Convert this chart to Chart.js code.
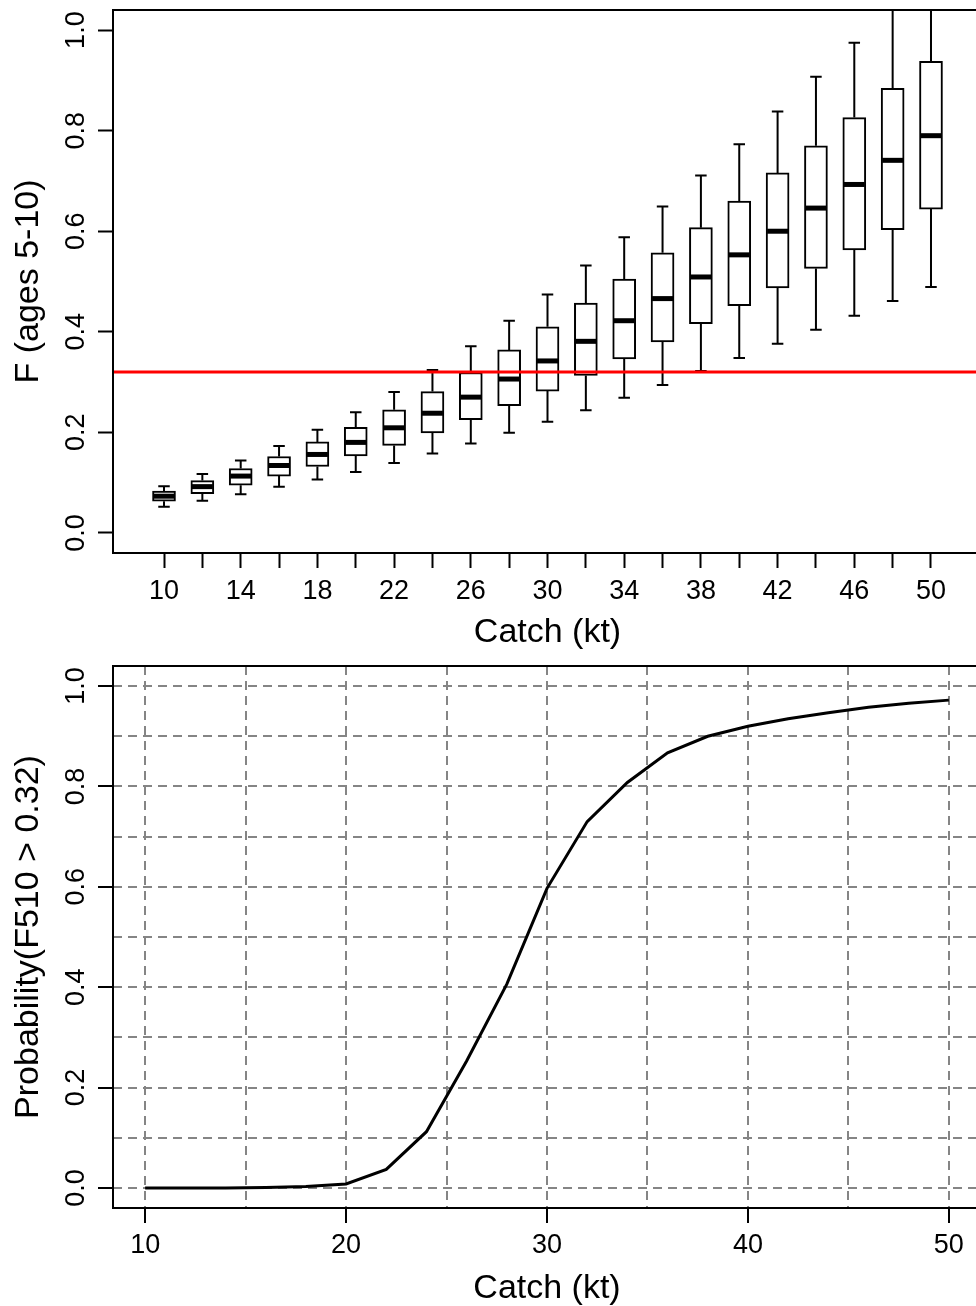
<!DOCTYPE html>
<html>
<head>
<meta charset="utf-8">
<script src="https://cdn.jsdelivr.net/npm/chart.js@4.4.1/dist/chart.umd.min.js"></script>
<style>
html, body { margin: 0; padding: 0; background: #fff; overflow: hidden; width: 976px; height: 1306px; }
#wrapTop { position: absolute; left: 0; top: 0; }
#wrapBottom { position: absolute; left: 0; top: 650px; }
</style>
</head>
<body>
<div id="wrapTop"><canvas id="boxChart" width="1000" height="650"></canvas></div>
<div id="wrapBottom"><canvas id="probChart" width="1000" height="656"></canvas></div>
<script>
// --- top panel: F (ages 5-10) by catch ---
const catchLevels = [10, 12, 14, 16, 18, 20, 22, 24, 26, 28, 30, 32, 34, 36, 38, 40, 42, 44, 46, 48, 50];
const whiskerLow  = [0.052, 0.064, 0.077, 0.092, 0.106, 0.121, 0.139, 0.158, 0.178, 0.199, 0.221, 0.244, 0.269, 0.294, 0.322, 0.348, 0.376, 0.404, 0.432, 0.461, 0.489];
const boxLow      = [0.063, 0.078, 0.095, 0.113, 0.132, 0.153, 0.174, 0.199, 0.225, 0.253, 0.282, 0.313, 0.346, 0.380, 0.416, 0.452, 0.487, 0.526, 0.563, 0.603, 0.644];
const medianF     = [0.073, 0.092, 0.113, 0.134, 0.156, 0.180, 0.209, 0.238, 0.270, 0.306, 0.342, 0.381, 0.422, 0.466, 0.509, 0.553, 0.600, 0.646, 0.693, 0.741, 0.790];
const boxHigh     = [0.083, 0.104, 0.128, 0.152, 0.181, 0.210, 0.245, 0.281, 0.319, 0.364, 0.410, 0.457, 0.505, 0.557, 0.607, 0.660, 0.716, 0.770, 0.826, 0.884, 0.938];
const whiskerHigh = [0.093, 0.117, 0.144, 0.173, 0.205, 0.240, 0.280, 0.324, 0.371, 0.422, 0.474, 0.532, 0.588, 0.649, 0.711, 0.773, 0.838, 0.907, 0.975, 1.06, 1.12];
const fLimit = 0.32;
const topXLabels = [10, 14, 18, 22, 26, 30, 34, 38, 42, 46, 50];
const yTickLabels = [0, 0.2, 0.4, 0.6, 0.8, 1.0];

// --- bottom panel: probability F510 > 0.32 ---
const catchProb  = [10, 12, 14, 16, 18, 20, 22, 24, 26, 28, 30, 32, 34, 36, 38, 40, 42, 44, 46, 48, 50];
const probExceed = [0, 0, 0, 0.001, 0.003, 0.008, 0.037, 0.112, 0.253, 0.406, 0.597, 0.730, 0.808, 0.867, 0.900, 0.920, 0.935, 0.947, 0.958, 0.966, 0.972];
const probXGrid   = [10, 15, 20, 25, 30, 35, 40, 45, 50];
const probXLabels = [10, 20, 30, 40, 50];
const probYGrid   = [0, 0.1, 0.2, 0.3, 0.4, 0.5, 0.6, 0.7, 0.8, 0.9, 1.0];

const FONT = '"Liberation Sans", Arial, sans-serif';
Chart.defaults.font.family = FONT;
Chart.defaults.color = '#000';

// box around the plot region + rotated y tick labels (R style)
const frameAndLabels = {
  id: 'frameAndLabels',
  afterDraw(chart) {
    const {ctx, chartArea: a, scales: {y}} = chart;
    ctx.save();
    ctx.strokeStyle = '#000';
    ctx.lineWidth = 2;
    ctx.strokeRect(a.left, a.top, a.right - a.left, a.bottom - a.top);
    ctx.fillStyle = '#000';
    ctx.font = '27px ' + FONT;
    ctx.textAlign = 'center';
    ctx.textBaseline = 'alphabetic';
    yTickLabels.forEach(v => {
      ctx.save();
      ctx.translate(84, y.getPixelForValue(v));
      ctx.rotate(-Math.PI / 2);
      ctx.fillText(v.toFixed(1), 0, 0);
      ctx.restore();
    });
    ctx.restore();
  }
};

// whiskers, caps and medians drawn right after the boxes
const boxParts = {
  id: 'boxParts',
  afterDatasetDraw(chart, args) {
    if (args.index !== 0) return;
    const {ctx, chartArea: a, scales: {y}} = chart;
    const bars = chart.getDatasetMeta(0).data;
    ctx.save();
    ctx.beginPath();
    ctx.rect(a.left, a.top, a.right - a.left, a.bottom - a.top);
    ctx.clip();
    ctx.strokeStyle = '#000';
    bars.forEach((bar, i) => {
      const px = bar.x, half = bar.width / 2, cap = half / 2;
      const yWh = y.getPixelForValue(whiskerHigh[i]);
      const yWl = y.getPixelForValue(whiskerLow[i]);
      ctx.lineWidth = 2;
      ctx.beginPath();
      ctx.moveTo(px, y.getPixelForValue(boxHigh[i]));
      ctx.lineTo(px, yWh);
      ctx.moveTo(px, y.getPixelForValue(boxLow[i]));
      ctx.lineTo(px, yWl);
      ctx.moveTo(px - cap, yWh);
      ctx.lineTo(px + cap, yWh);
      ctx.moveTo(px - cap, yWl);
      ctx.lineTo(px + cap, yWl);
      ctx.stroke();
      const ym = y.getPixelForValue(medianF[i]);
      ctx.lineWidth = 5;
      ctx.beginPath();
      ctx.moveTo(px - half + 1, ym);
      ctx.lineTo(px + half - 1, ym);
      ctx.stroke();
    });
    ctx.restore();
  }
};

const topXMin = 7.34, topXMax = 52.66;

new Chart(document.getElementById('boxChart'), {
  type: 'bar',
  data: {
    datasets: [
      {
        type: 'bar',
        order: 1,
        data: catchLevels.map((c, i) => ({x: c, y: [boxLow[i], boxHigh[i]]})),
        backgroundColor: '#fff',
        borderColor: '#000',
        borderWidth: 2,
        borderSkipped: false,
        barThickness: 23
      },
      {
        type: 'line',
        order: 0,
        data: [{x: topXMin, y: fLimit}, {x: topXMax, y: fLimit}],
        borderColor: '#ff0000',
        borderWidth: 3,
        pointRadius: 0
      }
    ]
  },
  options: {
    responsive: false,
    animation: false,
    devicePixelRatio: 1,
    layout: {padding: {top: 10, right: 18, left: 0, bottom: 0}},
    plugins: {legend: {display: false}, tooltip: {enabled: false}},
    scales: {
      x: {
        type: 'linear',
        min: topXMin,
        max: topXMax,
        offset: false,
        afterBuildTicks: s => { s.ticks = catchLevels.map(v => ({value: v})); },
        afterFit: s => { s.height = 97; },
        grid: {offset: false, drawOnChartArea: false, tickLength: 15, tickWidth: 2, tickColor: '#000'},
        border: {display: false},
        ticks: {
          autoSkip: false, maxRotation: 0, padding: 7,
          font: {size: 27},
          callback: v => topXLabels.includes(v) ? String(v) : ''
        },
        title: {display: true, text: 'Catch (kt)', font: {size: 34, lineHeight: 1}, padding: {top: 0, bottom: 0}}
      },
      y: {
        min: -0.04,
        max: 1.04,
        afterBuildTicks: s => { s.ticks = yTickLabels.map(v => ({value: v})); },
        afterFit: s => { s.width = 113; },
        grid: {drawOnChartArea: false, tickLength: 15, tickWidth: 2, tickColor: '#000'},
        border: {display: false},
        ticks: {display: false},
        title: {display: true, text: 'F (ages 5-10)', font: {size: 34, lineHeight: 1}, padding: {top: 12, bottom: 0}}
      }
    }
  },
  plugins: [boxParts, frameAndLabels]
});

const isMajorY = v => Math.round(v * 10) % 2 === 0;

new Chart(document.getElementById('probChart'), {
  type: 'line',
  data: {
    datasets: [{
      data: catchProb.map((c, i) => ({x: c, y: probExceed[i]})),
      borderColor: '#000',
      borderWidth: 3,
      pointRadius: 0,
      tension: 0
    }]
  },
  options: {
    responsive: false,
    animation: false,
    devicePixelRatio: 1,
    layout: {padding: {top: 16, right: 19, left: 0, bottom: 0}},
    plugins: {legend: {display: false}, tooltip: {enabled: false}},
    scales: {
      x: {
        type: 'linear',
        min: 8.4,
        max: 51.6,
        afterBuildTicks: s => { s.ticks = probXGrid.map(v => ({value: v})); },
        afterFit: s => { s.height = 98; },
        grid: {
          color: '#858585', lineWidth: 2, tickLength: 15, tickWidth: 2,
          tickColor: c => probXLabels.includes(c.tick.value) ? '#000' : 'rgba(0,0,0,0)'
        },
        border: {display: false, dash: [9, 6]},
        ticks: {
          autoSkip: false, maxRotation: 0, padding: 6,
          font: {size: 27},
          callback: v => probXLabels.includes(v) ? String(v) : ''
        },
        title: {display: true, text: 'Catch (kt)', font: {size: 34, lineHeight: 1}, padding: {top: 0, bottom: 0}}
      },
      y: {
        min: -0.04,
        max: 1.04,
        afterBuildTicks: s => { s.ticks = probYGrid.map(v => ({value: v})); },
        afterFit: s => { s.width = 113; },
        grid: {
          color: '#858585', lineWidth: 2, tickLength: 15, tickWidth: 2,
          tickColor: c => isMajorY(c.tick.value) ? '#000' : 'rgba(0,0,0,0)'
        },
        border: {display: false, dash: [9, 6]},
        ticks: {display: false},
        title: {display: true, text: 'Probability(F510 > 0.32)', font: {size: 34, lineHeight: 1}, padding: {top: 12, bottom: 0}}
      }
    }
  },
  plugins: [frameAndLabels]
});
</script>
</body>
</html>
